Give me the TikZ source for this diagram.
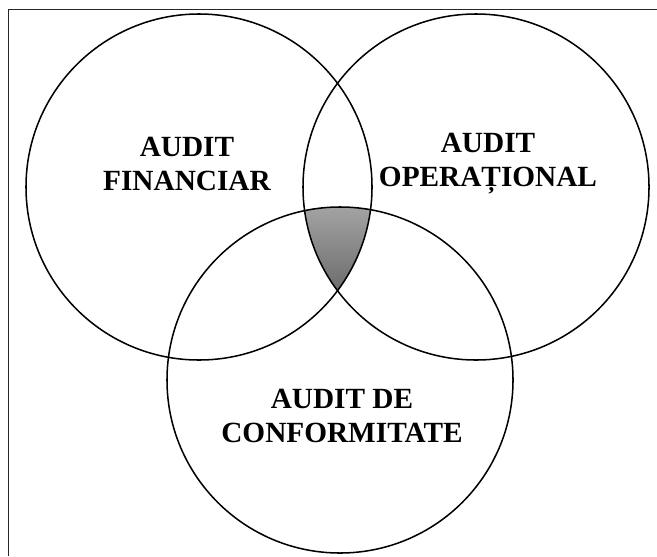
\documentclass[tikz,border=0pt]{standalone}
\usepackage{fontspec}
\setmainfont{Liberation Serif}
\usepackage{xcolor}
\definecolor{mygray}{gray}{0.15}
\tikzset{label/.style={font=\fontsize{25}{29}\selectfont\bfseries, align=center}}

\begin{document}
\begin{tikzpicture}[x=0.03cm,y=-0.03cm]
\useasboundingbox (0,0) rectangle (657,556);
\draw[mygray, line width=0.8pt] (8,556) -- (8,9) -- (657,9);

% shaded common part
\begin{scope}
\clip (199,187) circle (5.19cm);
\clip (476,187) circle (5.19cm);
\clip (340,380) circle (5.19cm);
\shade[top color=black!36, middle color=black!20, bottom color=black!58] (290,206) rectangle (390,293);
\end{scope}

\draw[line width=1.3pt] (199,187) circle (5.19cm);
\draw[line width=1.3pt] (476,187) circle (5.19cm);
\draw[line width=1.3pt] (340,380) circle (5.19cm);

\node[label] (fin) at (187,164) {AUDIT\\FINANCIAR};
\node[label] (op) at (488,164) {AUDIT\\OPERAȚIONAL};
\node[label] (conf) at (342,416) {AUDIT DE\\CONFORMITATE};

\end{tikzpicture}
\end{document}
